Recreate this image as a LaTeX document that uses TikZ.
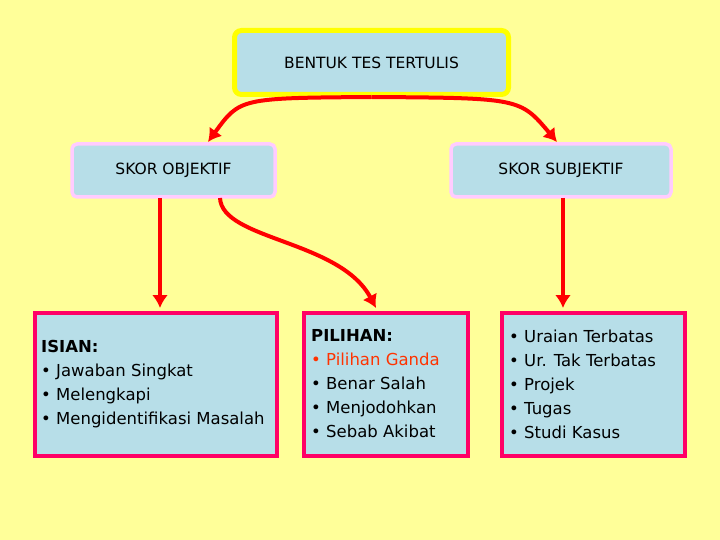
\documentclass[tikz,border=0pt]{standalone}
\usepackage{fontspec}
\setmainfont{DejaVu Sans}
\begin{document}
\begin{tikzpicture}[x=1pt,y=-1pt,
 bx/.style={draw, fill=boxb, line width=3.5pt, inner sep=0pt, font=\fontsize{15.5}{18}\selectfont},
 arr/.style={draw=red, line width=4pt, -{Latex[length=13pt,width=16pt]}},
 txt/.style={align=left, anchor=west, font=\fontsize{16.5}{24}\selectfont, inner sep=0pt}]
\usetikzlibrary{arrows.meta}
\definecolor{bg}{HTML}{FFFF99}
\definecolor{boxb}{HTML}{B7DEE8}
\definecolor{pk}{HTML}{FFCCFF}
\definecolor{rp}{HTML}{FF0066}
\definecolor{ylw}{HTML}{FFFF00}
\fill[bg] (0,0) rectangle (720,540);
\useasboundingbox (0,0) rectangle (720,540);
\node[bx, draw=ylw, line width=5pt, rounded corners=7pt, minimum width=274pt, minimum height=64pt] (top) at (371.5,62.5) {BENTUK TES TERTULIS};
\node[bx, draw=pk, rounded corners=5pt, minimum width=203pt, minimum height=53pt] (obj) at (173.5,170.5) {SKOR OBJEKTIF};
\node[bx, draw=pk, rounded corners=5pt, minimum width=220pt, minimum height=53pt] (sub) at (561,170.5) {SKOR SUBJEKTIF};
\node[bx, draw=rp, line width=4pt, minimum width=242pt, minimum height=143pt] (b1) at (156,384.5) {};
\node[bx, draw=rp, line width=4pt, minimum width=164pt, minimum height=143pt] (b2) at (386,384.5) {};
\node[bx, draw=rp, line width=4pt, minimum width=183pt, minimum height=143pt] (b3) at (593.5,384.5) {};
\node[txt] (t1) at (41,384) {\textbf{ISIAN:}\\• Jawaban Singkat\\• Melengkapi\\• Mengidentifikasi Masalah};
\node[txt] (t2) at (311,384) {\textbf{PILIHAN:}\\\textcolor[HTML]{FF3300}{• Pilihan Ganda}\\• Benar Salah\\• Menjodohkan\\• Sebab Akibat};
\node[txt] (t3) at (509,384) {• Uraian Terbatas\\• Ur. Tak Terbatas\\• Projek\\• Tugas\\• Studi Kasus};
\coordinate (o1) at (160,198); \coordinate (o2) at (220,198);
\coordinate (s1) at (563,198);
\draw[arr] (top.south) .. controls (240,98) .. (208,142);
\draw[arr] (top.south) .. controls (520,98) .. (557,142);
\draw[arr] (o1) -- (160,308);
\draw[arr] (o2) .. controls (222,240) and (340,240) .. (376,308);
\draw[arr] (s1) -- (563,308);
\end{tikzpicture}
\end{document}
